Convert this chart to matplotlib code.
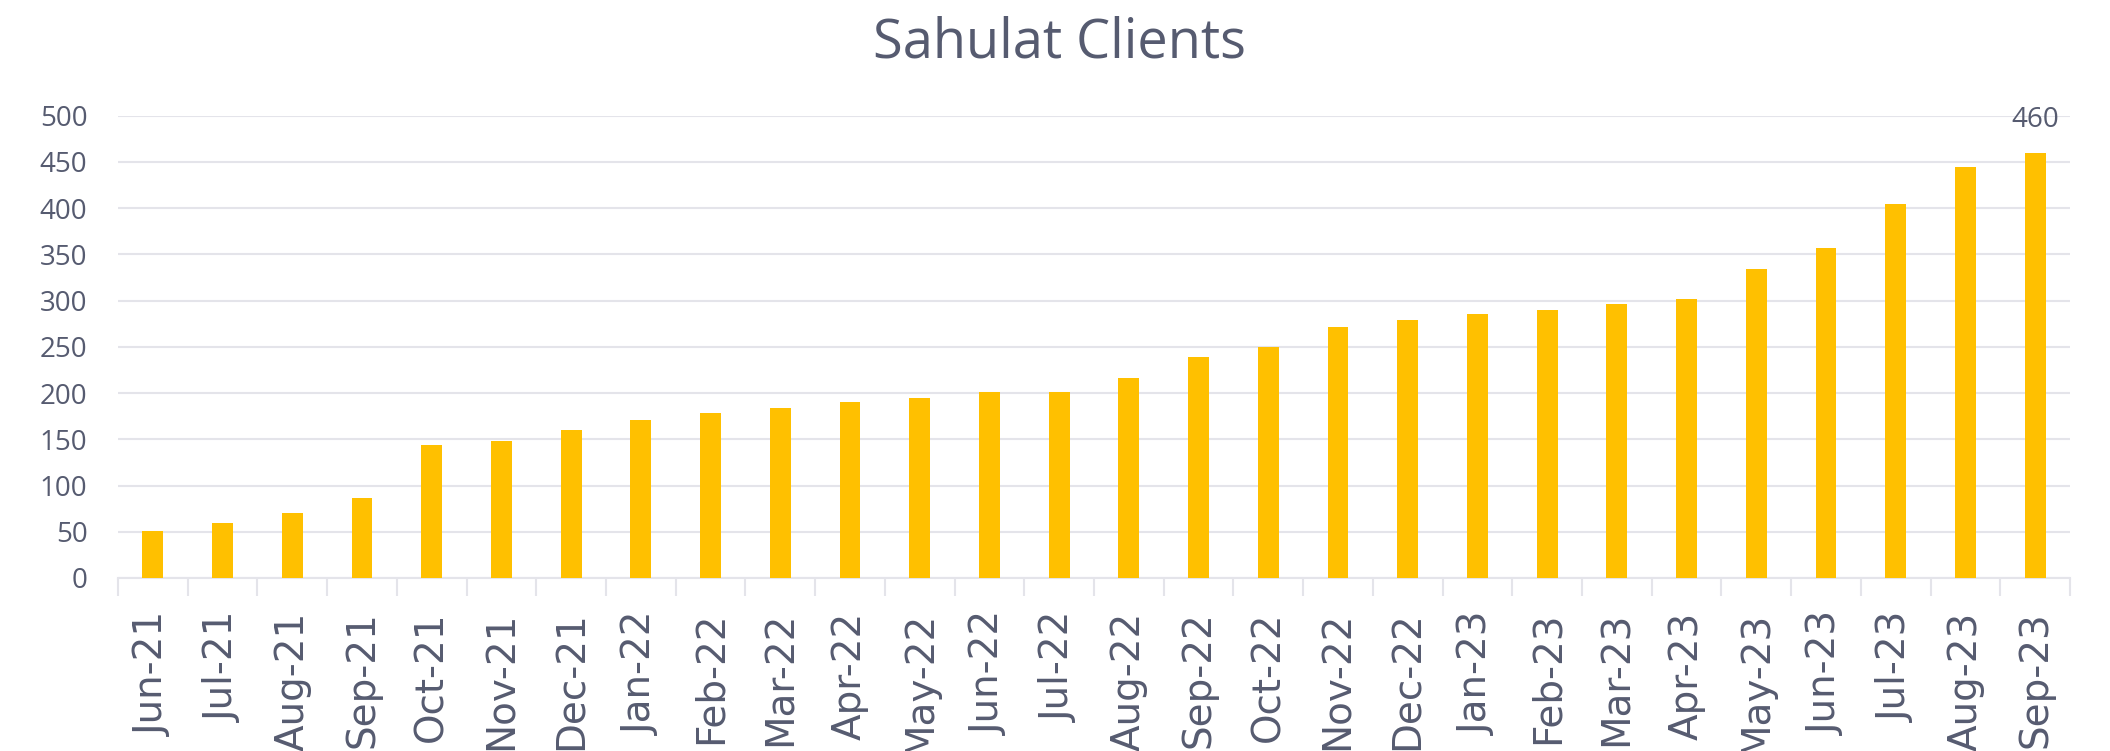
import numpy as np
import matplotlib
matplotlib.use("Agg")
import matplotlib.pyplot as plt

# Monthly client counts
months = ["Jun-21", "Jul-21", "Aug-21", "Sep-21", "Oct-21", "Nov-21", "Dec-21",
          "Jan-22", "Feb-22", "Mar-22", "Apr-22", "May-22", "Jun-22", "Jul-22",
          "Aug-22", "Sep-22", "Oct-22", "Nov-22", "Dec-22", "Jan-23", "Feb-23",
          "Mar-23", "Apr-23", "May-23", "Jun-23", "Jul-23", "Aug-23", "Sep-23"]
clients = [51, 60, 70, 87, 144, 148, 160, 171, 178, 184, 190, 195, 201, 201,
           216, 239, 250, 272, 279, 285, 290, 296, 302, 334, 357, 404, 444, 460]

text_color = "#565B70"
grid_color = "#E4E4EA"

fig = plt.figure(figsize=(21.1, 7.51), dpi=100)
ax = fig.add_axes([118 / 2110, 1 - 578 / 751, (2070 - 118) / 2110, (578 - 115.7) / 751])

x = np.arange(len(clients))
ax.bar(x, clients, width=0.3, color="#FFC000", zorder=3)

# label only the last bar
ax.text(x[-1], clients[-1] + 20, str(clients[-1]), ha="center", va="bottom",
        fontsize=20, family="Open Sans", color=text_color)

ax.set_xlim(-0.5, len(clients) - 0.5)
ax.set_ylim(0, 500)
ax.set_yticks(range(0, 501, 50))
ax.yaxis.grid(True, color=grid_color, linewidth=1.5, zorder=0)
ax.set_axisbelow(True)

for side in ["left", "right", "top"]:
    ax.spines[side].set_visible(False)
ax.spines["bottom"].set_color(grid_color)
ax.spines["bottom"].set_linewidth(1.5)

ax.set_xticks(x)
ax.set_xticklabels(months, rotation=90, fontsize=28, family="DejaVu Sans",
                   color=text_color, va="top")
ax.tick_params(axis="x", length=0, pad=24)
ax.set_xticks(np.arange(-0.5, len(clients), 1), minor=True)
ax.tick_params(axis="x", which="minor", length=13, width=1.5, color=grid_color)

ax.tick_params(axis="y", length=0, pad=22)
for lab in ax.get_yticklabels():
    lab.set_family("Open Sans")
    lab.set_fontsize(20)
    lab.set_color(text_color)

fig.text(0.502, 1 - 57 / 751, "Sahulat Clients", ha="center", va="baseline",
         fontsize=39, family="Open Sans", color=text_color)

plt.savefig("out.png", dpi=100)
